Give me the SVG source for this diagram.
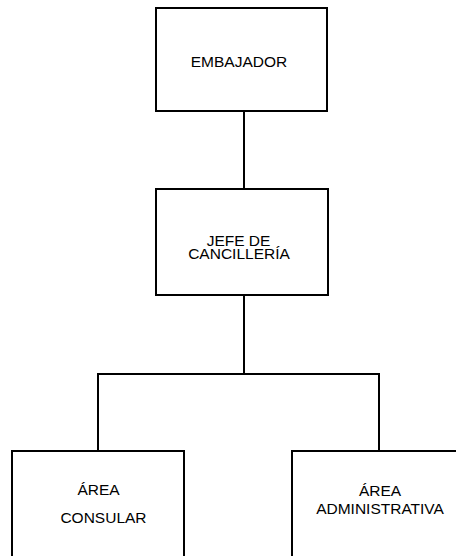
<svg xmlns="http://www.w3.org/2000/svg" width="456" height="556" viewBox="0 0 456 556">
<style>
.box{fill:#fff;stroke:#000;stroke-width:2}
.ln{fill:none;stroke:#000;stroke-width:2}
text{font-family:"Liberation Sans",Arial,sans-serif;font-size:15.5px;fill:#000;text-anchor:middle}
</style>
<rect width="456" height="556" fill="#fff"/>
<g id="connectors">
<line class="ln" x1="244" y1="111" x2="244" y2="189"/>
<line class="ln" x1="244" y1="295" x2="244" y2="374"/>
<polyline class="ln" points="98,451 98,374 379,374 379,451"/>
</g>
<g id="embajador">
<rect class="box" x="156" y="8" width="171" height="103"/>
<text x="239" y="66.5">EMBAJADOR</text>
</g>
<g id="jefe">
<rect class="box" x="156" y="189" width="172" height="106"/>
<text x="238.5" y="245.5">JEFE DE</text>
<text x="239" y="258.5">CANCILLERÍA</text>
</g>
<g id="consular">
<rect class="box" x="12" y="451" width="172" height="120"/>
<text x="98.5" y="495">ÁREA</text>
<text x="103.5" y="523">CONSULAR</text>
</g>
<g id="administrativa">
<rect class="box" x="292" y="451" width="180" height="120"/>
<text x="380" y="496">ÁREA</text>
<text x="380" y="514">ADMINISTRATIVA</text>
</g>
</svg>
